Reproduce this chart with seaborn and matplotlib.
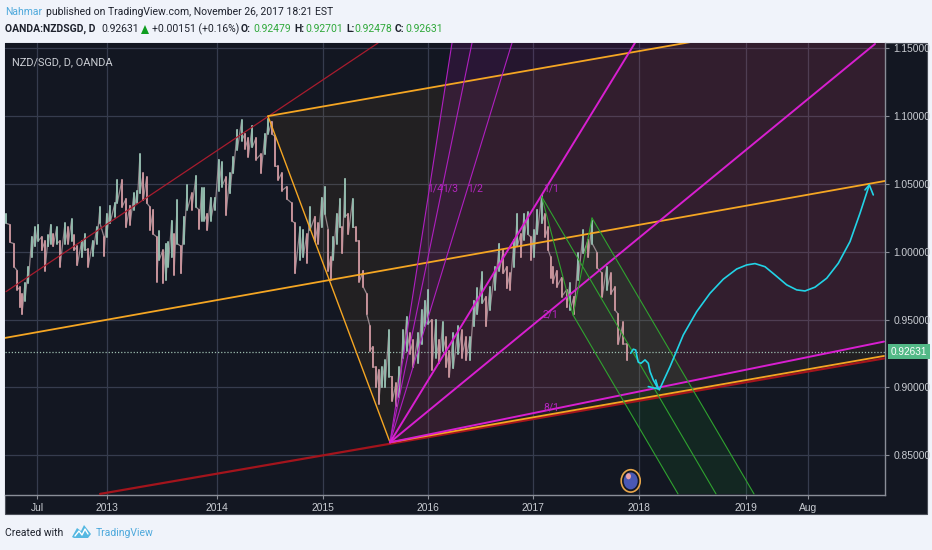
import pandas as pd
import seaborn as sns
import matplotlib.pyplot as plt
from matplotlib.patches import Rectangle, Ellipse, Polygon

# bars: x is the position on the time scale
bar_x = [6, 10, 14, 17.3, 20, 22, 25, 28.3, 31.7, 35, 38.3, 41.7, 45, 48.3, 50.7, 53.3, 56.7, 60, 65, 68.3,
         71.7, 74, 77.3, 81.7, 85, 88.3, 92.7, 96.7, 100, 104, 106.7, 110, 115, 117.3, 122, 126, 130, 134, 137.3, 140,
         143.3, 146.7, 150, 153.3, 156.7, 159.3, 162.7, 166, 168.3, 171.7, 174, 177.3, 181, 184, 187.3, 191.7, 196, 199, 201.7, 204.3,
         207.3, 210.7, 215, 218.7, 221.7, 226, 230, 233.3, 237.3, 241.7, 245, 248.3, 252.3, 256, 261, 265, 268.3, 271.7, 275, 278.3,
         281.7, 286.7, 291.7, 295, 300, 303.3, 306.7, 310, 315, 318.3, 321.7, 325, 328.3, 330.7, 333.3, 336.7, 340, 342.3, 345, 348.3,
         352.7, 356, 359.3, 363.3, 366.7, 370, 372.7, 376, 378.7, 381.7, 385, 389, 392.3, 396, 399.3, 403.3, 406.7, 410, 413.3, 418.3,
         421.7, 425, 428.3, 431.7, 436, 439.3, 442.7, 446, 449.3, 453.3, 458.3, 461.7, 466, 470, 474, 477.3, 482.3, 486, 490, 495,
         499.3, 503.3, 506.7, 510, 514, 517.3, 520.7, 524, 527.7, 530.7, 534, 537.3, 541.7, 545, 548.3, 550.7, 552.7, 556.7, 561.7, 566.7,
         570, 574, 578.3, 583.3, 588.3, 592.3, 597.3, 602.3, 606.7, 610.7, 615, 618.3, 623.3, 627.3]
bar_high = [1.028, 1.020, 1.006, 0.986, 0.974, 0.969, 0.977, 0.989, 1.011, 1.018, 1.020, 1.011, 1.008, 1.012, 1.020, 1.013, 1.018, 1.008, 1.021, 1.018,
            1.024, 1.012, 1.004, 1.008, 1.013, 1.002, 1.008, 1.018, 1.033, 1.011, 1.028, 1.034, 1.036, 1.053, 1.053, 1.039, 1.034, 1.043, 1.045, 1.072,
            1.058, 1.055, 1.033, 1.031, 1.011, 1.015, 1.001, 1.006, 1.007, 1.023, 1.013, 1.038, 1.004, 1.026, 1.049, 1.043, 1.056, 1.031, 1.047, 1.047,
            1.028, 1.040, 1.040, 1.068, 1.066, 1.055, 1.058, 1.070, 1.090, 1.097, 1.087, 1.084, 1.093, 1.084, 1.072, 1.087, 1.098, 1.096, 1.085, 1.063,
            1.058, 1.048, 1.036, 1.021, 1.018, 1.016, 1.013, 1.033, 1.026, 1.021, 1.040, 1.048, 1.016, 0.996, 1.011, 1.028, 1.039, 1.018, 1.054, 1.028,
            1.039, 1.018, 1.008, 0.986, 0.969, 0.945, 0.930, 0.915, 0.913, 0.915, 0.920, 0.942, 0.908, 0.903, 0.915, 0.942, 0.952, 0.940, 0.935, 0.940,
            0.957, 0.964, 0.972, 0.950, 0.950, 0.935, 0.948, 0.937, 0.927, 0.940, 0.945, 0.942, 0.937, 0.937, 0.964, 0.973, 0.985, 0.967, 0.974, 0.989,
            1.006, 1.001, 0.989, 0.984, 1.009, 1.028, 1.013, 1.028, 1.029, 1.011, 1.016, 1.031, 1.042, 1.028, 1.018, 0.996, 0.989, 0.986, 0.981, 0.972,
            0.977, 0.967, 0.999, 1.016, 1.009, 1.023, 0.999, 0.984, 0.989, 0.984, 0.974, 0.954, 0.948, 0.932]
bar_low = [1.021, 1.007, 0.989, 0.972, 0.959, 0.954, 0.964, 0.977, 0.996, 1.004, 1.008, 1.001, 0.986, 1.004, 1.006, 1.004, 1.006, 0.989, 1.006, 1.006,
           1.008, 1.001, 0.990, 0.996, 1.001, 0.989, 0.997, 1.006, 1.021, 0.997, 1.011, 1.021, 1.026, 1.036, 1.033, 1.018, 1.020, 1.031, 1.036, 1.043,
           1.038, 1.036, 1.016, 1.013, 0.978, 0.994, 0.977, 0.979, 0.989, 0.996, 0.983, 1.006, 0.984, 1.006, 1.031, 1.031, 1.033, 1.017, 1.023, 1.023,
           1.016, 1.023, 1.031, 1.045, 1.048, 1.027, 1.043, 1.058, 1.075, 1.082, 1.076, 1.070, 1.077, 1.068, 1.058, 1.072, 1.087, 1.087, 1.063, 1.053,
           1.045, 1.039, 1.023, 0.984, 0.994, 0.996, 0.992, 1.016, 1.008, 1.006, 1.018, 1.028, 0.986, 0.979, 0.994, 1.006, 1.018, 0.999, 1.026, 1.013,
           1.018, 1.008, 0.978, 0.974, 0.954, 0.927, 0.915, 0.900, 0.888, 0.900, 0.900, 0.908, 0.890, 0.886, 0.893, 0.922, 0.927, 0.925, 0.915, 0.918,
           0.932, 0.945, 0.947, 0.913, 0.922, 0.918, 0.927, 0.915, 0.908, 0.914, 0.925, 0.922, 0.920, 0.920, 0.945, 0.954, 0.962, 0.945, 0.957, 0.972,
           0.986, 0.984, 0.973, 0.972, 0.989, 1.004, 0.996, 1.009, 1.013, 0.994, 0.996, 1.013, 1.021, 1.011, 1.001, 0.981, 0.977, 0.974, 0.967, 0.959,
           0.957, 0.954, 0.979, 0.999, 0.996, 1.006, 0.988, 0.967, 0.972, 0.969, 0.957, 0.932, 0.932, 0.920]

last_price = 0.92631

x_ticks = [37, 107, 217, 323, 428, 533, 639, 746, 808]
x_labels = ['Jul', '2013', '2014', '2015', '2016', '2017', '2018', '2019', 'Aug']
y_ticks = [0.85, 0.90, 0.95, 1.00, 1.05, 1.10, 1.15]

# orange pitchfork
fork_handle_x, fork_handle_y = [268, 390], [1.100, 0.8595]
fork_upper_x, fork_upper_y = [268, 885], [1.100, 1.1797]
fork_mid_x, fork_mid_y = [5, 885], [0.9365, 1.0522]
fork_lower_x, fork_lower_y = [390, 884], [0.8595, 0.9232]
fork_split = (329, 0.979)

# red trend lines
red_low_x, red_low_y = [100, 884], [0.8215, 0.9214]
red_high_x, red_high_y = [6, 378], [0.9706, 1.1539]

# pink fan
apex = (390, 0.8595)
fan_top = 1.154
fan_ends = {'1/4': 452, '1/3': 472, '1/2': 512, '1/1': 635}
fan_2_1 = (875, 1.1532)
fan_8_1 = (884, 0.9338)
fan_labels = [('1/4', 427, 1.0463), ('1/3', 442, 1.0463), ('1/2', 467, 1.0463),
              ('1/1', 543, 1.0463), ('2/1', 543, 0.9534), ('8/1', 543, 0.885)]

# green pitchfork
green_x = [592, 573, 541.7]
green_y = [1.0249, 0.9534, 1.0406]
green_ends_x = [754, 678, 716]
green_end_y = 0.8215

# cyan drawings
squiggle_x = [630.7, 633.3, 635.7, 637, 638.3, 641, 645, 648.3, 650, 653.3, 658.3]
squiggle_y = [0.9252, 0.9282, 0.9276, 0.9227, 0.9186, 0.9178, 0.9203, 0.9178, 0.9117, 0.9055, 0.8989]
squiggle_head_x = [648.3, 658.3, 655.7]
squiggle_head_y = [0.9006, 0.8989, 0.9055]
swing_x = [659.3, 670, 683.3, 696.7, 710, 723.3, 736.7, 746.7, 755, 765, 775, 786.7, 796.7, 805, 815, 826.7, 838.3, 850, 860, 869.3]
swing_y = [0.8982, 0.9153, 0.9387, 0.9559, 0.9694, 0.9798, 0.9873, 0.9903, 0.9913, 0.9890, 0.9829, 0.9756, 0.9719, 0.9711, 0.9739, 0.9805, 0.9915, 1.0075, 1.0284, 1.0493]
swing_head_x = [865, 869.3, 873.3]
swing_head_y = [1.0456, 1.0493, 1.0419]

BG = '#131722'
GRID = '#363c4e'
PAGE = '#f0f3fa'
ORANGE = '#f5a623'
MAGENTA = '#d81fd0'
GREEN = '#2fa32f'
CYAN = '#22d3e6'
TEXT_AXIS = '#c9ccd2'

sns.set_theme(style='dark')
plt.rcParams['font.family'] = ['Roboto', 'DejaVu Sans']

W, H = 932, 550
fig = plt.figure(figsize=(W / 100, H / 100), dpi=100, facecolor=PAGE)
fig.add_artist(Rectangle((5 / W, 1 - 513.5 / H), 922 / W, 471 / H, transform=fig.transFigure,
                         facecolor=BG, edgecolor='#4a4e58', linewidth=0.8, zorder=-1))

ax = fig.add_axes([5 / W, 1 - 495 / H, 880 / W, 452 / H], facecolor=BG)
ax.set_xlim(5, 885)
ax.set_ylim(0.8207, 1.1539)


def draw_line(x, y, color, lw=1.2, zorder=4):
    sns.lineplot(x=x, y=y, color=color, linewidth=lw, ax=ax, estimator=None, sort=False,
                 legend=False, zorder=zorder)


# shaded areas
ax.fill([268, 885, 885, fork_split[0]], [1.100, 1.1797, 1.0522, fork_split[1]],
        color=ORANGE, alpha=0.065, lw=0, zorder=1)
ax.fill([fork_split[0], 885, 884, 390], [fork_split[1], 1.0522, 0.9232, 0.8595],
        color=ORANGE, alpha=0.065, lw=0, zorder=1)
ax.fill([apex[0], fan_ends['1/4'], 885, fan_8_1[0]],
        [apex[1], fan_top, fan_top, fan_8_1[1]],
        color='#c814a0', alpha=0.1, lw=0, zorder=1)
ax.fill([apex[0], fan_ends['1/4'], fan_ends['1/2']], [apex[1], fan_top, fan_top],
        color='#7828c8', alpha=0.05, lw=0, zorder=1)
ax.fill([green_x[0], green_x[1], green_ends_x[1], green_ends_x[0]],
        [green_y[0], green_y[1], green_end_y, green_end_y],
        color='#14b428', alpha=0.1, lw=0, zorder=1)

# price bars
df = pd.DataFrame({'bar': range(len(bar_x)), 'x': bar_x, 'high': bar_high, 'low': bar_low})
mid = (df['high'] + df['low']) / 2
df['side'] = ['up' if m >= p else 'down' for m, p in zip(mid, mid.shift(1).fillna(mid))]
long_df = df.melt(id_vars=['bar', 'x', 'side'], value_vars=['high', 'low'], value_name='price')
# zigzag under the bars so the path reads as one continuous series
path_df = long_df.sort_values(['bar', 'variable'])
sns.lineplot(data=path_df, x='x', y='price', color='#b3a0a6', linewidth=0.9, alpha=0.8, estimator=None,
             sort=False, legend=False, ax=ax, zorder=3)
sns.lineplot(data=long_df, x='x', y='price', hue='side', units='bar', estimator=None, sort=False,
             palette={'up': '#93bfb0', 'down': '#cc959d'}, linewidth=1.45, alpha=0.9, legend=False, ax=ax, zorder=3)

# trend lines
draw_line(red_low_x, red_low_y, '#a3141c', 1.6, 4)
draw_line(red_high_x, red_high_y, '#a81c2e', 0.9, 4)

draw_line(fork_lower_x, fork_lower_y, ORANGE, 1.3, 5)
draw_line(fork_mid_x, fork_mid_y, ORANGE, 1.3, 5)
draw_line(fork_upper_x, fork_upper_y, ORANGE, 1.3, 5)
draw_line(fork_handle_x, fork_handle_y, ORANGE, 1.0, 5)

for name, end in fan_ends.items():
    draw_line([apex[0], end], [apex[1], fan_top], MAGENTA if name == '1/1' else '#b01fc0',
              1.4 if name == '1/1' else 0.8, 5)
draw_line([apex[0], fan_2_1[0]], [apex[1], fan_2_1[1]], MAGENTA, 1.4, 5)
draw_line([apex[0], fan_8_1[0]], [apex[1], fan_8_1[1]], MAGENTA, 1.4, 5)
for label, lx, ly in fan_labels:
    ax.text(lx, ly, label, color='#b526c0', fontsize=7.5, ha='left', va='center', zorder=6)

draw_line(green_x, green_y, GREEN, 0.8, 5)
for sx, sy, ex in zip(green_x, green_y, green_ends_x):
    draw_line([sx, ex], [sy, green_end_y], GREEN, 0.8, 5)

draw_line(squiggle_x, squiggle_y, CYAN, 1.2, 6)
draw_line(squiggle_head_x, squiggle_head_y, CYAN, 1.2, 6)
draw_line(swing_x, swing_y, CYAN, 1.2, 6)
draw_line(swing_head_x, swing_head_y, CYAN, 1.2, 6)

# last price line
ax.axhline(last_price, color='#9dbdaf', linewidth=0.9, linestyle=(0, (1, 1.5)), zorder=2)

# flag badge
ax.add_patch(Ellipse((630.7, 0.8311), 19, 0.0165, facecolor='#131722', edgecolor='#e8a64a', linewidth=1.2, zorder=6))
ax.add_patch(Ellipse((630.7, 0.8311), 14, 0.0125, facecolor='#4a58b4', edgecolor='none', zorder=7))
ax.add_patch(Ellipse((628.5, 0.8345), 5, 0.0045, facecolor='#e9a0a8', edgecolor='none', zorder=8))

# axes
ax.set_xticks(x_ticks, x_labels)
ax.set_yticks(y_ticks, [f'{v:.5f}' for v in y_ticks])
ax.yaxis.tick_right()
ax.grid(True, color=GRID, linewidth=0.9, zorder=0)
ax.set_axisbelow(True)
ax.tick_params(axis='x', colors='#8a8e98', labelcolor=TEXT_AXIS, labelsize=7.4, length=3, width=0.8, pad=3, bottom=True)
ax.tick_params(axis='y', colors='#8a8e98', labelcolor=TEXT_AXIS, labelsize=7.4, length=3, width=0.8, pad=3, right=True)
for lab in ax.get_xticklabels() + ax.get_yticklabels():
    lab.set_family(['Liberation Sans', 'DejaVu Sans'])
ax.set_xlabel('')
ax.set_ylabel('')
for side in ['top', 'left']:
    ax.spines[side].set_visible(False)
for side in ['right', 'bottom']:
    ax.spines[side].set_color('#8a8e98')
    ax.spines[side].set_linewidth(1.0)

ax.text(890.5, last_price, '0.92631', color='white', fontsize=7.2, family=['Liberation Sans'],
        ha='left', va='center', zorder=9, clip_on=False,
        bbox=dict(boxstyle='square,pad=0.25', facecolor='#53b987', edgecolor='none'))

ax.text(12, 1.1395, 'NZD/SGD, D, OANDA', color='#c9ccd2', fontsize=7.9, ha='left', va='center', zorder=9)


def page_text(x, y, s, color='#1e222d', weight='normal', size=7.5):
    fig.text(x / W, 1 - y / H, s, color=color, fontweight=weight, fontsize=size, ha='left', va='center')


# header
page_text(5, 12, 'Nahmar', '#4ea9dc')
page_text(46, 12, 'published on TradingView.com, November 26, 2017 18:21 EST')
page_text(5, 29, 'OANDA:NZDSGD, D', weight='bold')
page_text(101, 29, '0.92631')
fig.add_artist(Polygon([(141 / W, 1 - 34 / H), (149 / W, 1 - 34 / H), (145 / W, 1 - 25 / H)],
                       transform=fig.transFigure, facecolor='#0f9d20', edgecolor='none'))
page_text(152, 29, '+0.00151 (+0.16%)')
ohlc = [('O:', 241, '0.92479', 253), ('H:', 294, '0.92701', 305), ('L:', 346, '0.92478', 354), ('C:', 395, '0.92631', 405)]
for key, kx, val, vx in ohlc:
    page_text(kx, 29, key, weight='bold')
    page_text(vx, 29, val, '#2fa83a')

# footer
page_text(5, 533, 'Created with')
page_text(96, 533, 'TradingView', '#4ea9dc')
logo = [(72, 537), (77, 528), (81, 531), (84, 525), (91, 534), (88, 538), (74, 538)]
fig.add_artist(Polygon([(x / W, 1 - y / H) for x, y in logo], transform=fig.transFigure,
                       facecolor='#55b8e2', edgecolor='none'))
zig = [(75, 536), (79, 531), (82, 535), (85, 529), (88, 534)]
fig.add_artist(plt.Line2D([x / W for x, y in zig], [1 - y / H for x, y in zig], color='white', linewidth=1.0,
                          transform=fig.transFigure))

fig.savefig('out.png', dpi=100, facecolor=PAGE)
plt.close(fig)
